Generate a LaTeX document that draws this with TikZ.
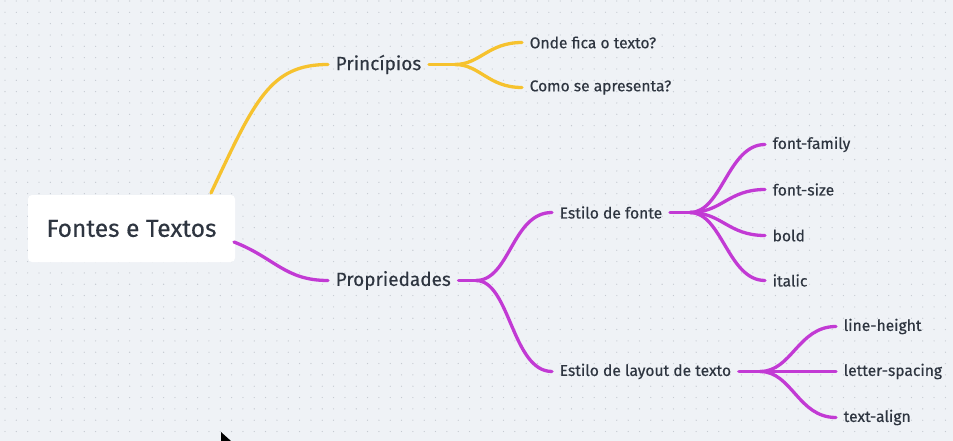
\documentclass[tikz,border=0pt]{standalone}
\usepackage{fontspec}
\setmainfont{Fira Sans}[FakeBold=0.35]
\definecolor{bg}{HTML}{EFF2F6}
\definecolor{dotc}{HTML}{C5CAD1}
\definecolor{txt}{HTML}{2E3540}
\definecolor{yel}{HTML}{F6C22E}
\definecolor{pur}{HTML}{C23AD4}
\begin{document}
\begin{tikzpicture}[x=1pt,y=-1pt,
  every node/.style={text=txt, inner ysep=0pt, inner xsep=7.5pt},
  rootbox/.style={fill=white, rounded corners=4pt, minimum width=207pt, minimum height=67pt, font=\fontsize{24.5}{26}\selectfont},
  lvlone/.style={anchor=west, font=\fontsize{19}{21}\selectfont},
  leaf/.style={anchor=west, font=\fontsize{15.6}{17}\selectfont},
  yline/.style={draw=yel, line width=3.3pt, line cap=round},
  pline/.style={draw=pur, line width=3.3pt, line cap=round}]
\useasboundingbox (0,0) rectangle (953,441);
\fill[bg] (0,0) rectangle (953,441);
\foreach \i in {0,...,84} {
  \foreach \j in {0,...,38} {
    \fill[dotc] (5+\i*11.33, 1+\j*11.33) circle (0.65pt);
  }
}
% nodes
\node[rootbox] (root) at (131.5,228.5) {Fontes e Textos};
\node[lvlone] (pri) at (328,64.5) {Princípios};
\node[leaf] (onde) at (522,42.5) {Onde fica o texto?};
\node[leaf] (como) at (522,87.5) {Como se apresenta?};
\node[lvlone] (pro) at (328,280.5) {Propriedades};
\node[leaf] (efo) at (552,212.5) {Estilo de fonte};
\node[leaf] (ela) at (552,371.5) {Estilo de layout de texto};
\node[leaf] (ff) at (765,144.5) {font-family};
\node[leaf] (fs) at (765,189.5) {font-size};
\node[leaf] (bo) at (765,235.5) {bold};
\node[leaf] (it) at (765,280.5) {italic};
\node[leaf] (lh) at (836,326.5) {line-height};
\node[leaf] (ls) at (836,371.5) {letter-spacing};
\node[leaf] (ta) at (836,417.5) {text-align};
% coordinates
\coordinate (rtop) at (211,193);
\coordinate (rright) at (234,242);
\coordinate (bp) at (455,64.5);
\coordinate (bq) at (476,280.5);
\coordinate (bf) at (690,212.5);
\coordinate (bl) at (760,371.5);
% yellow
\draw[yline] (rtop) .. controls (255,100) and (270,64.5) .. (pri.west);
\draw[yline] (pri.east) -- (bp);
\draw[yline] (bp) .. controls (480,64.5) and (488,42.5) .. (onde.west);
\draw[yline] (bp) .. controls (480,64.5) and (488,87.5) .. (como.west);
% purple
\draw[pline] (rright) .. controls (275,258) and (285,280.5) .. (pro.west);
\draw[pline] (pro.east) -- (bq);
\draw[pline] (bq) .. controls (510,280.5) and (512,212.5) .. (efo.west);
\draw[pline] (bq) .. controls (510,280.5) and (512,371.5) .. (ela.west);
\draw[pline] (efo.east) -- (bf);
\draw[pline] (bf) .. controls (722,212.5) and (728,144.5) .. (ff.west);
\draw[pline] (bf) .. controls (722,212.5) and (728,189.5) .. (fs.west);
\draw[pline] (bf) .. controls (722,212.5) and (728,235.5) .. (bo.west);
\draw[pline] (bf) .. controls (722,212.5) and (728,280.5) .. (it.west);
\draw[pline] (ela.east) -- (bl);
\draw[pline] (bl) .. controls (792,371.5) and (798,326.5) .. (lh.west);
\draw[pline] (bl) -- (ls.west);
\draw[pline] (bl) .. controls (792,371.5) and (798,417.5) .. (ta.west);
% cursor
\fill[black] (221,432) -- (221,447) -- (231,441) -- cycle;
\end{tikzpicture}
\end{document}
